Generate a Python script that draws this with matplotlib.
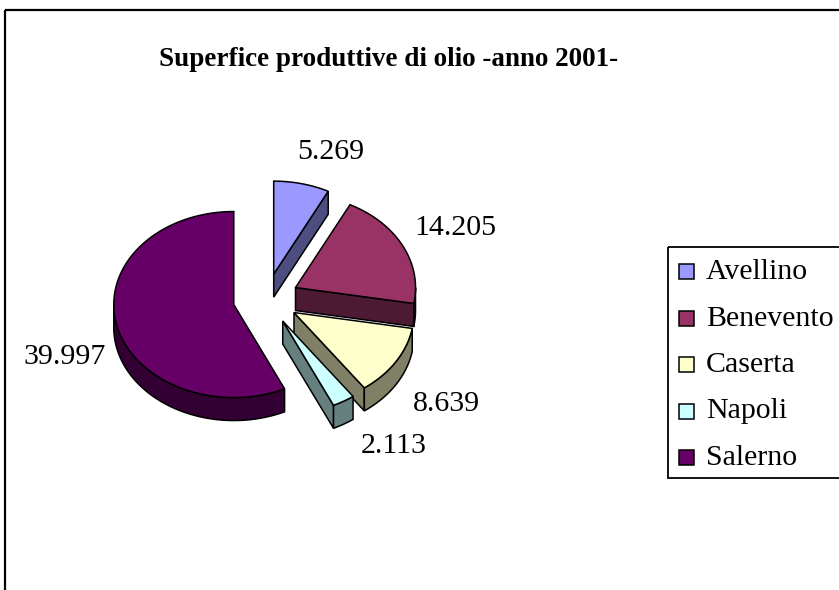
import numpy as np
import matplotlib.pyplot as plt
from matplotlib.patches import Polygon, Rectangle

# dati
province = ['Avellino', 'Benevento', 'Caserta', 'Napoli', 'Salerno']
superficie = [5.269, 14.205, 8.639, 2.113, 39.997]
etichette = ['5.269', '14.205', '8.639', '2.113', '39.997']
colori = ['#9999FF', '#993366', '#FFFFCC', '#CCFFFF', '#660066']
colori_lato = ['#4D4D80', '#4D1A33', '#808066', '#668080', '#330033']

# posizione delle etichette (pixel)
pos_etichette = [(331, 152), (455, 228), (446, 404), (394, 446), (65, 357)]

plt.rcParams['font.family'] = ['Liberation Serif', 'DejaVu Serif']

fig = plt.figure(figsize=(8.39, 5.90), dpi=100)
ax = fig.add_axes([0, 0, 1, 1])
ax.set_xlim(0, 839)
ax.set_ylim(590, 0)
ax.axis('off')

# cornice esterna
ax.add_patch(Rectangle((5, 10), 900, 700, fill=False, ec='black', lw=1.6))

# geometria della torta 3D
cx, cy = 266, 299
rx, ry = 120, 93
spessore = 23
esplodi = 0.275
lw = 1.1


def arco(ox, oy, t1, t2, n=80):
    t = np.radians(np.linspace(t1, t2, n))
    return ox + rx * np.cos(t), oy - ry * np.sin(t)


totale = sum(superficie)
fette = []
inizio = 90.0
for i, v in enumerate(superficie):
    ampiezza = 360 * v / totale
    b = inizio
    a = inizio - ampiezza
    inizio = a
    m = np.radians((a + b) / 2)
    ox = cx + rx * esplodi * np.cos(m)
    oy = cy - ry * esplodi * np.sin(m)
    fette.append((oy, i, a, b, ox))

# dal fondo verso il davanti
for oy, i, a, b, ox in sorted(fette):
    # pareti radiali
    for th, visibile in ((a, np.cos(np.radians(a)) > 1e-9),
                         (b, np.cos(np.radians(b)) < -1e-9)):
        if visibile:
            px = ox + rx * np.cos(np.radians(th))
            py = oy - ry * np.sin(np.radians(th))
            ax.add_patch(Polygon([(ox, oy), (px, py), (px, py + spessore),
                                  (ox, oy + spessore)], closed=True,
                                 fc=colori_lato[i], ec='black', lw=lw))
    # lato esterno (solo la parte davanti)
    for k in (-1, 0, 1):
        lo = max(a, -180 + 360 * k)
        hi = min(b, 360 * k)
        if hi > lo:
            xs, ys = arco(ox, oy, lo, hi)
            pts = list(zip(xs, ys)) + list(zip(xs[::-1], ys[::-1] + spessore))
            ax.add_patch(Polygon(pts, closed=True, fc=colori_lato[i],
                                 ec='black', lw=lw))
    # faccia superiore
    xs, ys = arco(ox, oy, a, b, 120)
    pts = [(ox, oy)] + list(zip(xs, ys))
    ax.add_patch(Polygon(pts, closed=True, fc=colori[i], ec='black', lw=lw))

# etichette valori
for testo, (x, y) in zip(etichette, pos_etichette):
    ax.text(x, y, testo, ha='center', va='center', fontsize=21.5)

# titolo
ax.text(389, 60, 'Superfice produttive di olio -anno 2001-', ha='center',
        va='center', fontsize=19.5, fontweight='bold')

# legenda
ax.add_patch(Rectangle((668, 247), 300, 231, fill=False, ec='black', lw=1.3))
for j, (nome, col) in enumerate(zip(province, colori)):
    y = 272 + j * 46.5
    ax.add_patch(Rectangle((679, y - 8), 15, 15, fc=col, ec='black', lw=1.1))
    ax.text(706, y, nome, ha='left', va='center', fontsize=21.5)

fig.savefig('out.png', dpi=100)
